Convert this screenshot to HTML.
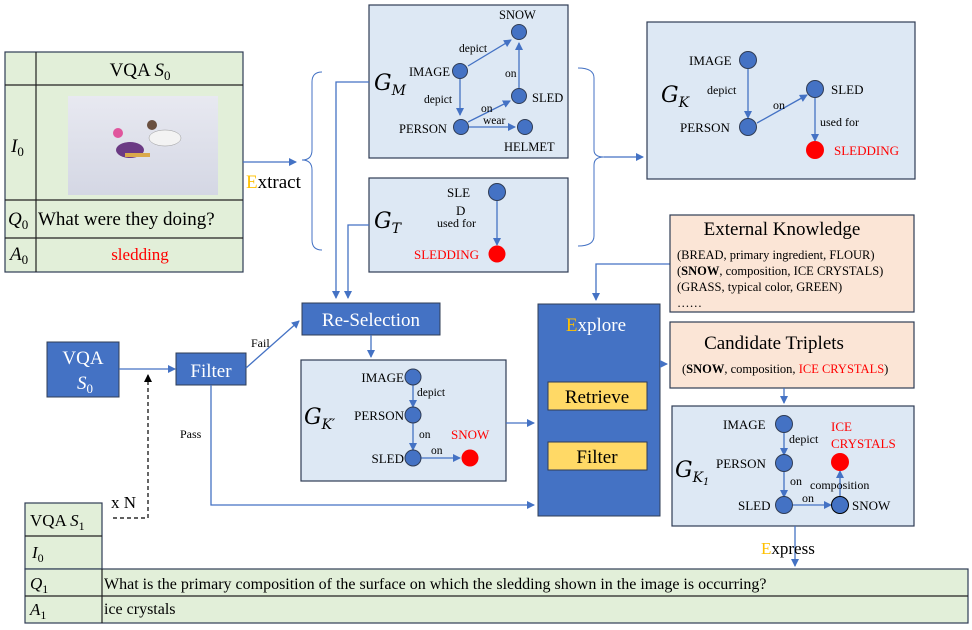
<!DOCTYPE html>
<html><head><meta charset="utf-8"><style>
html,body{margin:0;padding:0;background:#fff;}
svg{display:block;font-family:"Liberation Serif",serif;}
</style></head><body>
<svg width="972" height="630" viewBox="0 0 972 630" xmlns="http://www.w3.org/2000/svg">
<defs>
<marker id="a" markerWidth="8" markerHeight="8" refX="7" refY="4" orient="auto" markerUnits="userSpaceOnUse"><path d="M0,0 L8,4 L0,8 z" fill="#4472c4"/></marker>
<marker id="k" markerWidth="8" markerHeight="8" refX="7" refY="4" orient="auto" markerUnits="userSpaceOnUse"><path d="M0,0 L8,4 L0,8 z" fill="#000"/></marker>
<linearGradient id="sn" x1="0" y1="0" x2="0" y2="1"><stop offset="0" stop-color="#e8e9f1"/><stop offset="1" stop-color="#d4d7e4"/></linearGradient>
</defs>
<!-- left table -->
<rect x="5" y="52" width="238" height="220" fill="#e2efd9" stroke="#2f3c55" stroke-width="1.2"/>
<g stroke="#222" stroke-width="1.2"><line x1="36" y1="52" x2="36" y2="272"/><line x1="5" y1="85" x2="243" y2="85"/><line x1="5" y1="200" x2="243" y2="200"/><line x1="5" y1="238" x2="243" y2="238"/></g>
<text x="140" y="76" font-size="19" text-anchor="middle">VQA <tspan font-style="italic">S</tspan><tspan font-size="13" dy="4">0</tspan></text>
<text x="11" y="152" font-size="19" font-style="italic">I<tspan font-style="normal" font-size="13" dy="4">0</tspan></text>
<text x="8" y="225" font-size="19" font-style="italic">Q<tspan font-style="normal" font-size="13" dy="4">0</tspan></text>
<text x="38" y="225" font-size="19">What were they doing?</text>
<text x="10" y="260" font-size="19" font-style="italic">A<tspan font-style="normal" font-size="13" dy="4">0</tspan></text>
<text x="140" y="260" font-size="17" fill="#ff0000" text-anchor="middle">sledding</text>
<rect x="68" y="96" width="150" height="99" fill="url(#sn)"/>
<ellipse cx="130" cy="150" rx="14" ry="8" fill="#6b3a84"/><circle cx="118" cy="133" r="5" fill="#e0559d"/>
<ellipse cx="165" cy="138" rx="16" ry="8" fill="#f3f3f3" stroke="#999" stroke-width="0.5"/><circle cx="152" cy="125" r="5" fill="#6a5040"/>
<rect x="125" y="153" width="25" height="4" fill="#d9a94a"/>
<!-- extract -->
<line x1="243" y1="162" x2="296" y2="162" stroke="#4472c4" stroke-width="1.3" marker-end="url(#a)"/>
<text x="246" y="188" font-size="19"><tspan fill="#ffc000">E</tspan>xtract</text>
<path d="M322,72 Q312,72 312,82 L312,150 Q312,160 302,160 Q312,160 312,170 L312,240 Q312,250 322,250" stroke="#4472c4" stroke-width="1" fill="none"/>
<!-- GM -->
<rect x="369" y="5" width="199" height="153" fill="#dde8f4" stroke="#2f3c55" stroke-width="1.2"/>
<text x="374" y="90" font-size="22" font-style="italic" font-family="DejaVu Serif,serif">G<tspan font-size="14" dy="5">M</tspan></text>
<g stroke="#4472c4" stroke-width="1.3" marker-end="url(#a)">
<line x1="468" y1="66" x2="511" y2="40"/><line x1="460" y1="78" x2="460" y2="115"/><line x1="519" y1="88" x2="519" y2="43"/>
<line x1="468" y1="122" x2="510" y2="101"/><line x1="469" y1="127" x2="515" y2="127"/></g>
<g fill="#4472c4" stroke="#2f3c55" stroke-width="1"><circle cx="519" cy="32" r="7.5"/><circle cx="460" cy="71" r="7.5"/><circle cx="519" cy="96" r="7.5"/><circle cx="461" cy="127" r="7.5"/><circle cx="525" cy="127" r="7.5"/></g>
<g font-size="12.5"><text x="499" y="19">SNOW</text><text x="409" y="76">IMAGE</text><text x="399" y="133">PERSON</text><text x="532" y="102">SLED</text><text x="504" y="151">HELMET</text>
<text x="459" y="52" font-size="11.5">depict</text><text x="424" y="103" font-size="11.5">depict</text><text x="505" y="77" font-size="11.5">on</text><text x="481" y="112" font-size="11.5">on</text><text x="483" y="124" font-size="11.5">wear</text></g>
<!-- GT -->
<rect x="369" y="178" width="199" height="94" fill="#dde8f4" stroke="#2f3c55" stroke-width="1.2"/>
<text x="374" y="228" font-size="22" font-style="italic" font-family="DejaVu Serif,serif">G<tspan font-size="14" dy="5">T</tspan></text>
<line x1="497" y1="199" x2="497" y2="245" stroke="#4472c4" stroke-width="1.3" marker-end="url(#a)"/>
<circle cx="497" cy="192" r="8.5" fill="#4472c4" stroke="#2f3c55"/><circle cx="497" cy="254" r="8.5" fill="#ff0000"/>
<text x="447" y="197" font-size="13">SLE</text><text x="456" y="215" font-size="13">D</text><text x="437" y="227" font-size="12">used for</text>
<text x="414" y="259" font-size="13" fill="#ff0000">SLEDDING</text>
<!-- right brace -->
<path d="M578,68 Q594,68 594,78 L594,150 Q594,157 604,157 Q594,157 594,165 L594,236 Q594,246 578,246" stroke="#4472c4" stroke-width="1" fill="none"/>
<line x1="604" y1="157" x2="643" y2="157" stroke="#4472c4" stroke-width="1.3" marker-end="url(#a)"/>
<!-- GK -->
<rect x="647" y="22" width="268" height="157" fill="#dde8f4" stroke="#2f3c55" stroke-width="1.2"/>
<text x="661" y="102" font-size="22" font-style="italic" font-family="DejaVu Serif,serif">G<tspan font-size="14" dy="5">K</tspan></text>
<g stroke="#4472c4" stroke-width="1.3" marker-end="url(#a)"><line x1="748" y1="68" x2="748" y2="118"/><line x1="757" y1="123" x2="807" y2="95"/><line x1="815" y1="97" x2="815" y2="141"/></g>
<g fill="#4472c4" stroke="#2f3c55"><circle cx="748" cy="60" r="8.5"/><circle cx="748" cy="127" r="8.5"/><circle cx="815" cy="89" r="8.5"/></g>
<circle cx="815" cy="150" r="9" fill="#ff0000"/>
<g font-size="13"><text x="689" y="65">IMAGE</text><text x="680" y="132">PERSON</text><text x="831" y="94">SLED</text><text x="834" y="155" fill="#ff0000">SLEDDING</text>
<text x="707" y="94" font-size="12">depict</text><text x="773" y="109" font-size="12">on</text><text x="820" y="126" font-size="12">used for</text></g>
<!-- connectors to reselection -->
<g stroke="#4472c4" stroke-width="1.3" fill="none"><polyline points="369,82 336,82 336,298" marker-end="url(#a)"/><polyline points="369,225 348,225 348,298" marker-end="url(#a)"/></g>
<!-- VQA S0 / filter -->
<rect x="47" y="342" width="72" height="55" fill="#4472c4" stroke="#2f3c55"/>
<text x="83" y="364" font-size="19" fill="#fff" text-anchor="middle">VQA</text>
<text x="77" y="389" font-size="19" fill="#fff" font-style="italic">S<tspan font-style="normal" font-size="13" dy="4">0</tspan></text>
<line x1="119" y1="369" x2="175" y2="369" stroke="#4472c4" stroke-width="1.3" marker-end="url(#a)"/>
<rect x="176" y="353" width="70" height="32" fill="#4472c4" stroke="#2f3c55"/>
<text x="211" y="377" font-size="19" fill="#fff" text-anchor="middle">Filter</text>
<polyline points="148,518 148,375" stroke="#000" stroke-width="1.2" stroke-dasharray="4,3" fill="none" marker-end="url(#k)"/>
<line x1="113" y1="518" x2="148" y2="518" stroke="#000" stroke-width="1.2" stroke-dasharray="4,3"/>
<text x="111" y="508" font-size="17">x N</text>
<line x1="246" y1="368" x2="299" y2="321" stroke="#4472c4" stroke-width="1.3" marker-end="url(#a)"/>
<text x="251" y="347" font-size="12">Fail</text>
<polyline points="211,385 211,505 534,505" stroke="#4472c4" stroke-width="1.3" fill="none" marker-end="url(#a)"/>
<text x="180" y="438" font-size="12">Pass</text>
<!-- reselection -->
<rect x="302" y="303" width="138" height="32" fill="#4472c4" stroke="#2f3c55"/>
<text x="371" y="326" font-size="19" fill="#fff" text-anchor="middle">Re-Selection</text>
<line x1="371" y1="335" x2="371" y2="357" stroke="#4472c4" stroke-width="1.3" marker-end="url(#a)"/>
<!-- GK' -->
<rect x="301" y="360" width="205" height="121" fill="#dde8f4" stroke="#2f3c55" stroke-width="1.2"/>
<text x="304" y="424" font-size="22" font-style="italic" font-family="DejaVu Serif,serif">G<tspan font-size="14" dy="5">K′</tspan></text>
<g stroke="#4472c4" stroke-width="1.3" marker-end="url(#a)"><line x1="413" y1="385" x2="413" y2="407"/><line x1="413" y1="423" x2="413" y2="450"/><line x1="421" y1="458" x2="460" y2="458"/></g>
<g fill="#4472c4" stroke="#2f3c55"><circle cx="413" cy="377" r="8"/><circle cx="413" cy="415" r="8"/><circle cx="413" cy="458" r="8"/></g>
<circle cx="470" cy="458" r="8.5" fill="#ff0000"/>
<g font-size="13"><text x="404" y="382" text-anchor="end">IMAGE</text><text x="404" y="420" text-anchor="end">PERSON</text><text x="404" y="463" text-anchor="end">SLED</text><text x="451" y="439" fill="#ff0000">SNOW</text>
<text x="417" y="396" font-size="11.5">depict</text><text x="419" y="438" font-size="11.5">on</text><text x="431" y="454" font-size="11.5">on</text></g>
<line x1="506" y1="423" x2="534" y2="423" stroke="#4472c4" stroke-width="1.3" marker-end="url(#a)"/>
<!-- explore -->
<rect x="538" y="304" width="122" height="212" fill="#4472c4" stroke="#2f3c55"/>
<text x="596" y="331" font-size="19" fill="#fff" text-anchor="middle"><tspan fill="#ffc000">E</tspan>xplore</text>
<rect x="548" y="382" width="99" height="28" fill="#ffd966" stroke="#2f3c55"/>
<text x="597" y="403" font-size="19" text-anchor="middle">Retrieve</text>
<rect x="548" y="442" width="99" height="28" fill="#ffd966" stroke="#2f3c55"/>
<text x="597" y="463" font-size="19" text-anchor="middle">Filter</text>
<polyline points="670,264 596,264 596,300" stroke="#4472c4" stroke-width="1.3" fill="none" marker-end="url(#a)"/>
<line x1="660" y1="364" x2="667" y2="364" stroke="#4472c4" stroke-width="1.3" marker-end="url(#a)"/>
<!-- external knowledge -->
<rect x="670" y="215" width="244" height="97" fill="#fbe5d6" stroke="#2f3c55" stroke-width="1.2"/>
<text x="782" y="235" font-size="19" text-anchor="middle">External Knowledge</text>
<g font-size="12.5"><text x="677" y="259">(BREAD, primary ingredient, FLOUR)</text><text x="677" y="275">(<tspan font-weight="bold">SNOW</tspan>, composition, ICE CRYSTALS)</text><text x="677" y="291">(GRASS, typical color, GREEN)</text><text x="677" y="307">……</text></g>
<rect x="670" y="322" width="244" height="66" fill="#fbe5d6" stroke="#2f3c55" stroke-width="1.2"/>
<text x="774" y="349" font-size="19" text-anchor="middle">Candidate Triplets</text>
<text x="682" y="373" font-size="12.5">(<tspan font-weight="bold">SNOW</tspan>, composition, <tspan fill="#ff0000">ICE CRYSTALS</tspan>)</text>
<line x1="784" y1="388" x2="784" y2="403" stroke="#4472c4" stroke-width="1.3" marker-end="url(#a)"/>
<!-- GK1 -->
<rect x="672" y="406" width="242" height="120" fill="#dde8f4" stroke="#2f3c55" stroke-width="1.2"/>
<text x="675" y="477" font-size="22" font-style="italic" font-family="DejaVu Serif,serif">G<tspan font-size="14" dy="5">K<tspan font-size="10" dy="3">1</tspan></tspan></text>
<g stroke="#4472c4" stroke-width="1.3" marker-end="url(#a)"><line x1="784" y1="432" x2="784" y2="455"/><line x1="784" y1="471" x2="784" y2="497"/><line x1="793" y1="505" x2="831" y2="505"/><line x1="840" y1="497" x2="840" y2="471"/></g>
<g fill="#4472c4" stroke="#2f3c55"><circle cx="784" cy="424" r="8.5"/><circle cx="784" cy="463" r="8.5"/><circle cx="784" cy="505" r="8.5"/><circle cx="840" cy="505" r="8.5" stroke="#000"/></g>
<circle cx="840" cy="462" r="9" fill="#ff0000"/>
<g font-size="13"><text x="723" y="429">IMAGE</text><text x="716" y="468">PERSON</text><text x="738" y="510">SLED</text><text x="852" y="510">SNOW</text>
<text x="831" y="431" fill="#ff0000">ICE</text><text x="831" y="448" fill="#ff0000">CRYSTALS</text>
<text x="789" y="443" font-size="12">depict</text><text x="790" y="485" font-size="12">on</text><text x="810" y="489" font-size="12">composition</text><text x="802" y="502" font-size="12">on</text></g>
<line x1="795" y1="526" x2="795" y2="566" stroke="#4472c4" stroke-width="1.3" marker-end="url(#a)"/>
<text x="761" y="554" font-size="17"><tspan fill="#ffc000">E</tspan>xpress</text>
<!-- bottom table -->
<rect x="25" y="503" width="77" height="66" fill="#e2efd9" stroke="#2f3c55" stroke-width="1.2"/>
<line x1="25" y1="536" x2="102" y2="536" stroke="#222" stroke-width="1.2"/>
<rect x="25" y="569" width="943" height="54" fill="#e2efd9" stroke="#2f3c55" stroke-width="1.2"/>
<line x1="25" y1="596" x2="968" y2="596" stroke="#222" stroke-width="1.2"/>
<line x1="102" y1="569" x2="102" y2="623" stroke="#222" stroke-width="1.2"/>
<text x="30" y="526" font-size="17">VQA <tspan font-style="italic">S</tspan><tspan font-size="12" dy="4">1</tspan></text>
<text x="32" y="558" font-size="17" font-style="italic">I<tspan font-style="normal" font-size="12" dy="4">0</tspan></text>
<text x="30" y="589" font-size="17" font-style="italic">Q<tspan font-style="normal" font-size="12" dy="4">1</tspan></text>
<text x="104" y="589" font-size="16">What is the primary composition of the surface on which the sledding shown in the image is occurring?</text>
<text x="30" y="615" font-size="17" font-style="italic">A<tspan font-style="normal" font-size="12" dy="4">1</tspan></text>
<text x="104" y="614" font-size="16">ice crystals</text>
</svg>
</body></html>
